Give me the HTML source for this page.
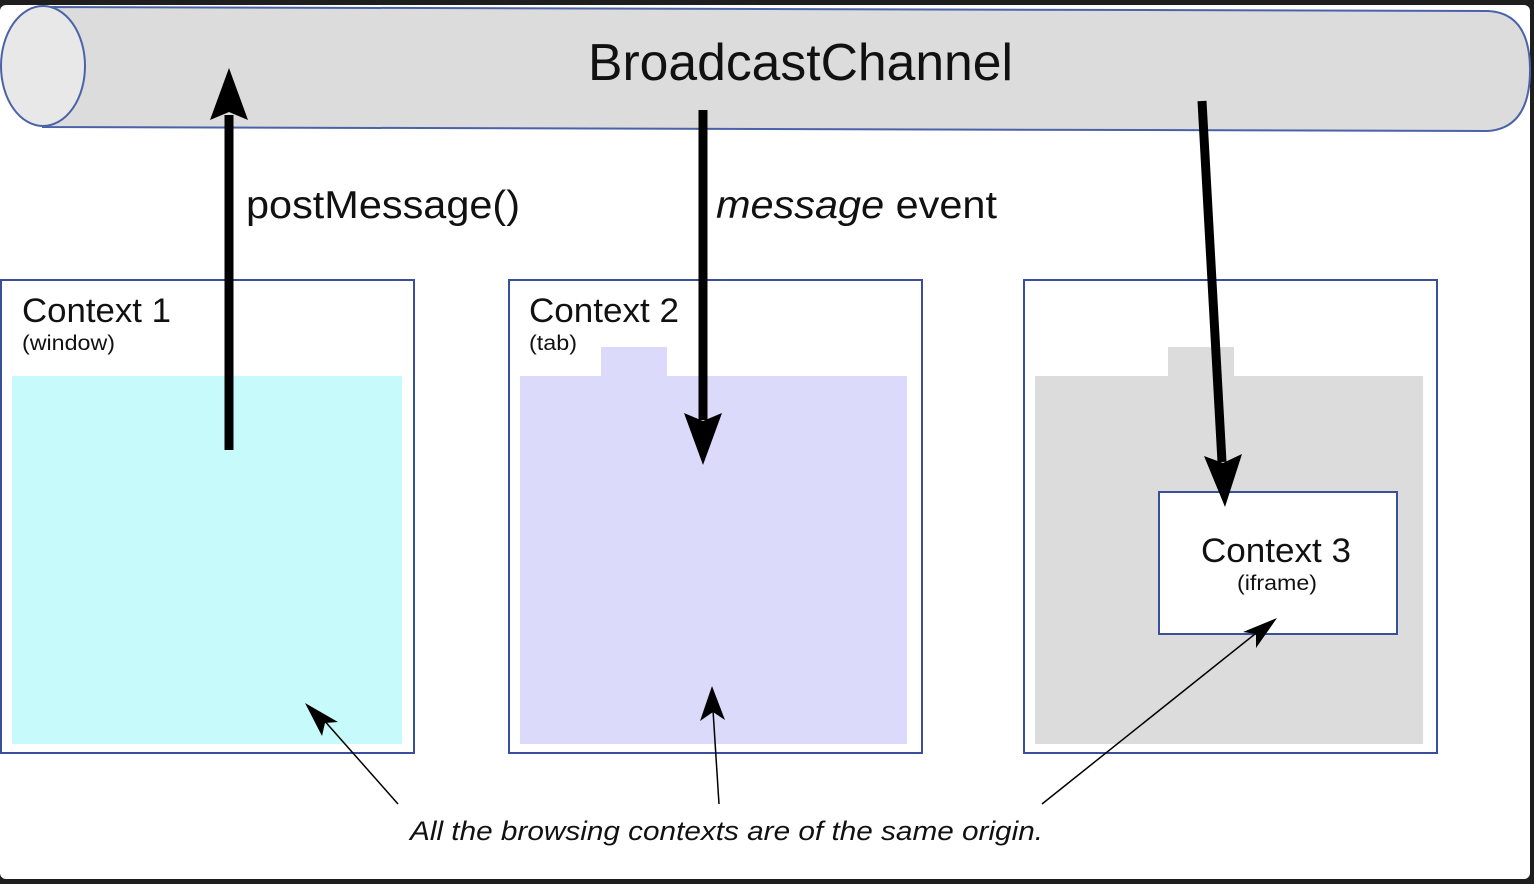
<!DOCTYPE html>
<html><head><meta charset="utf-8"><style>
html,body{margin:0;padding:0;background:#1e1e1e;}
svg{display:block;}
text{font-family:"Liberation Sans",sans-serif;}
</style></head><body>
<svg width="1534" height="884" viewBox="0 0 1534 884" xmlns="http://www.w3.org/2000/svg">
<rect x="0" y="0" width="1534" height="884" fill="#1e1e1e"/>
<rect x="0" y="5" width="1530" height="874" rx="6" fill="#fff"/>
<path d="M43 7 L1488 11 Q1530 13 1530 70 Q1530 128 1488 131 L43 127 Z" fill="#dcdcdc" stroke="#4a63a8" stroke-width="2"/>
<ellipse cx="43" cy="66" rx="42" ry="60" fill="#e8e8e8" stroke="#4a63a8" stroke-width="2"/>
<text x="588" y="80" font-size="52" textLength="425" lengthAdjust="spacingAndGlyphs" fill="#111">BroadcastChannel</text>
<rect x="1" y="280" width="413" height="473" fill="#fff" stroke="#3a4f9a" stroke-width="2"/>
<rect x="12" y="376" width="390" height="368" fill="#c6fafb"/>
<text x="22" y="322" font-size="34" textLength="149" lengthAdjust="spacingAndGlyphs" fill="#111">Context 1</text>
<text x="22" y="350" font-size="21" textLength="93" lengthAdjust="spacingAndGlyphs" fill="#111">(window)</text>
<rect x="509" y="280" width="413" height="473" fill="#fff" stroke="#3a4f9a" stroke-width="2"/>
<rect x="601" y="347" width="66" height="30" fill="#dcdafa"/>
<rect x="520" y="376" width="387" height="368" fill="#dcdafa"/>
<text x="529" y="322" font-size="34" textLength="150" lengthAdjust="spacingAndGlyphs" fill="#111">Context 2</text>
<text x="529" y="350" font-size="21" textLength="48" lengthAdjust="spacingAndGlyphs" fill="#111">(tab)</text>
<rect x="1024" y="280" width="413" height="473" fill="#fff" stroke="#3a4f9a" stroke-width="2"/>
<rect x="1168" y="347" width="66" height="30" fill="#dcdcdc"/>
<rect x="1035" y="376" width="388" height="368" fill="#dcdcdc"/>
<rect x="1159" y="492" width="238" height="142" fill="#fff" stroke="#3a4f9a" stroke-width="2"/>
<text x="1201" y="562" font-size="34" textLength="150" lengthAdjust="spacingAndGlyphs" fill="#111">Context 3</text>
<text x="1237" y="590" font-size="21" textLength="80" lengthAdjust="spacingAndGlyphs" fill="#111">(iframe)</text>
<line x1="229" y1="450" x2="229" y2="115" stroke="#000" stroke-width="9"/>
<path d="M229 68 L248 120 L229 112 L210 120 Z" fill="#000"/>
<line x1="703" y1="110" x2="703" y2="420" stroke="#000" stroke-width="9"/>
<path d="M703 465 L684 413 L703 421 L722 413 Z" fill="#000"/>
<line x1="1202" y1="101" x2="1222" y2="462" stroke="#000" stroke-width="9"/>
<path d="M1225 507 L1204 456 L1223 463 L1242 454 Z" fill="#000"/>
<text x="246" y="218" font-size="39" textLength="274" lengthAdjust="spacingAndGlyphs" fill="#111">postMessage()</text>
<text x="716" y="218" font-size="39" textLength="281" lengthAdjust="spacingAndGlyphs" fill="#111"><tspan font-style="italic">message</tspan> event</text>
<line x1="398" y1="804" x2="322" y2="718" stroke="#000" stroke-width="1.5"/>
<path d="M305 703 L338 722 L325 723 L322 736 Z" fill="#000"/>
<line x1="719" y1="804" x2="713" y2="710" stroke="#000" stroke-width="1.5"/>
<path d="M712 686 L725 720 L713 712 L700 721 Z" fill="#000"/>
<line x1="1042" y1="804" x2="1260" y2="630" stroke="#000" stroke-width="1.5"/>
<path d="M1277 618 L1256 648 L1256 634 L1243 632 Z" fill="#000"/>
<text x="410" y="840" font-size="27" font-style="italic" textLength="633" lengthAdjust="spacingAndGlyphs" fill="#111">All the browsing contexts are of the same origin.</text>
</svg>
</body></html>
